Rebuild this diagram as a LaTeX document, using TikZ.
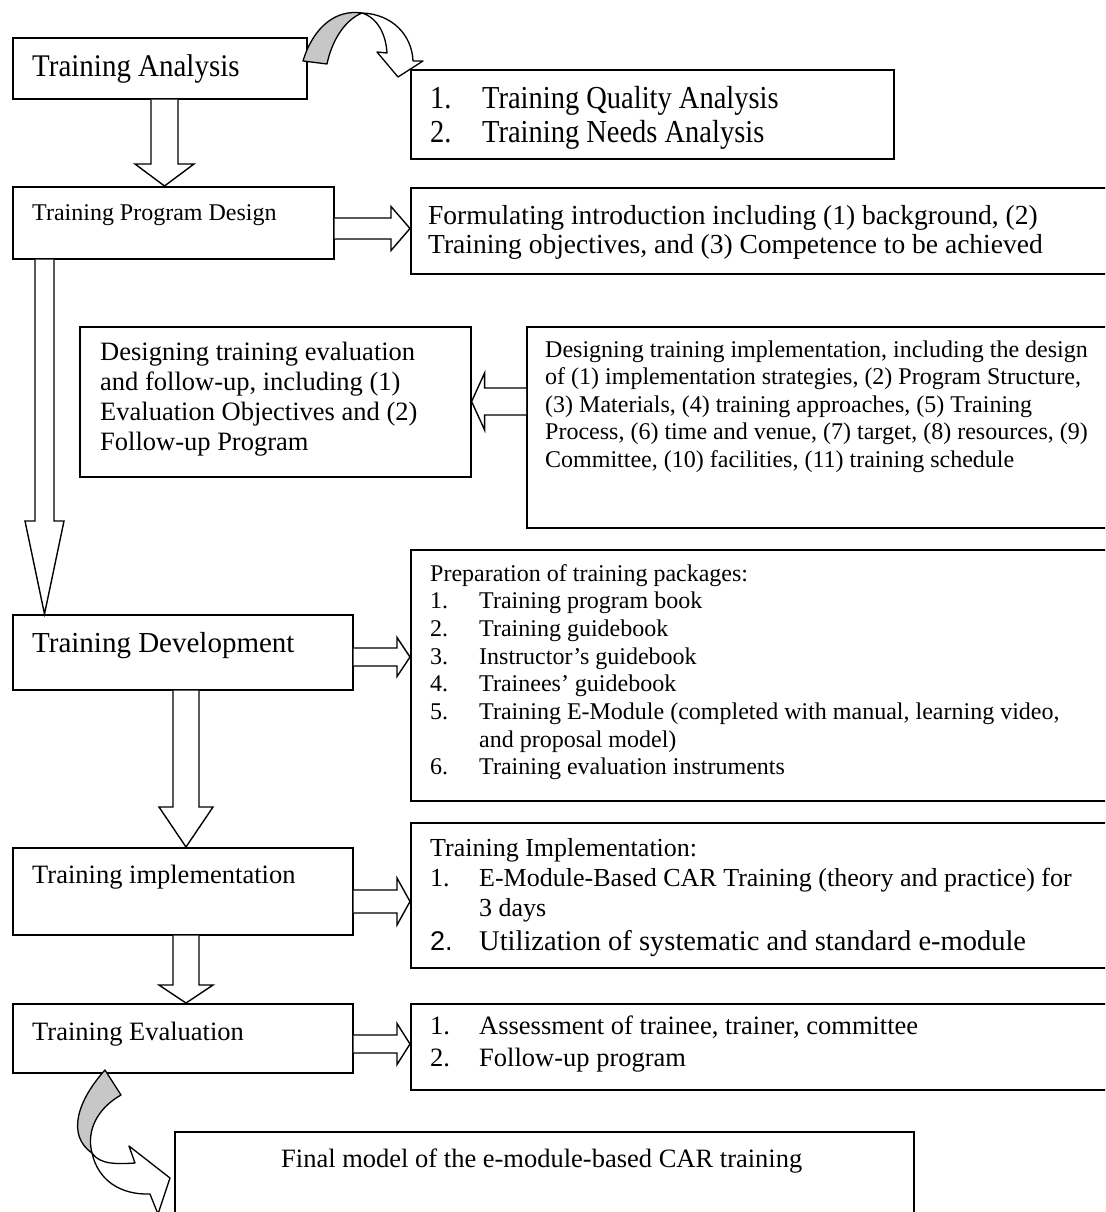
\documentclass[tikz,border=0pt]{standalone}
\usepackage{fontspec}
\setmainfont{Liberation Serif}
\newfontfamily\sansnum{Liberation Sans}
\newfontfamily\condA{Liberation Serif}[FakeStretch=0.92]
\newfontfamily\condB{Liberation Serif}[FakeStretch=0.89]
\usetikzlibrary{calc}
\newcommand\fsz[2]{\fontsize{#1}{#2}\selectfont}
% vertical block arrow: start, end, shaft half width, head half width, head length
\newcommand\varrow[5]{%
  \draw[barrow] let \p1=#1, \p2=#2 in
    ({\x1-#3},\y1) -- ({\x1-#3},{\y2+#5}) -- ({\x1-#4},{\y2+#5}) -- (\x1,\y2)
    -- ({\x1+#4},{\y2+#5}) -- ({\x1+#3},{\y2+#5}) -- ({\x1+#3},\y1);}
% horizontal block arrow: start, end, shaft half width, head half width, head length (negative = leftward)
\newcommand\harrow[5]{%
  \draw[barrow] let \p1=#1, \p2=#2 in
    (\x1,{\y1+#3}) -- ({\x2-(#5)},{\y1+#3}) -- ({\x2-(#5)},{\y1+#4}) -- (\x2,\y1)
    -- ({\x2-(#5)},{\y1-#4}) -- ({\x2-(#5)},{\y1-#3}) -- (\x1,{\y1-#3});}
\begin{document}
\begin{tikzpicture}[x=1pt,y=-1pt,
  box/.style={draw, line width=1.6pt, rectangle, inner sep=0pt, anchor=north west},
  txt/.style={anchor=base west, inner sep=0pt},
  barrow/.style={draw, line width=1.4pt, fill=white, line join=miter},
  ribbon/.style={draw, line width=1.3pt, line join=round}]
\useasboundingbox (0,0) rectangle (1105,1212);
\clip (0,0) rectangle (1105,1212);
\fill[white] (0,0) rectangle (1105,1212);

% boxes
\node[box, minimum width=294pt, minimum height=61pt]  (ta)    at (12,37)   {};
\node[box, minimum width=483pt, minimum height=89pt]  (qa)    at (410,69)  {};
\node[box, minimum width=321pt, minimum height=72pt]  (tpd)   at (12,186)  {};
\node[box, minimum width=700pt, minimum height=86pt]  (form)  at (410,187) {};
\node[box, minimum width=391pt, minimum height=150pt] (deval) at (79,326)  {};
\node[box, minimum width=584pt, minimum height=201pt] (dimpl) at (526,326) {};
\node[box, minimum width=700pt, minimum height=251pt] (prep)  at (410,549) {};
\node[box, minimum width=340pt, minimum height=75pt]  (td)    at (12,614)  {};
\node[box, minimum width=700pt, minimum height=145pt] (impl)  at (410,822) {};
\node[box, minimum width=340pt, minimum height=87pt]  (ti)    at (12,847)  {};
\node[box, minimum width=700pt, minimum height=86pt]  (evalb) at (410,1003){};
\node[box, minimum width=340pt, minimum height=69pt]  (te)    at (12,1003) {};
\node[box, minimum width=739pt, minimum height=100pt] (final) at (174,1131){};

% arrow axes
\coordinate (c1) at (164.5,0);
\coordinate (c2) at (44.5,0);
\coordinate (c3) at (186,0);
\coordinate (r1) at (0,228.5);
\coordinate (r2) at (0,401.5);
\coordinate (r3) at (0,657);
\coordinate (r4) at (0,901.5);
\coordinate (r5) at (0,1044);

% block arrows
\varrow{(c1 |- ta.south)}{(c1 |- tpd.north)}{13.5pt}{29.5pt}{22pt}
\varrow{(c2 |- tpd.south)}{(c2 |- td.north)}{9.5pt}{19.5pt}{93pt}
\varrow{(c3 |- td.south)}{(c3 |- ti.north)}{13pt}{27pt}{40pt}
\varrow{(c3 |- ti.south)}{(c3 |- te.north)}{13pt}{27pt}{18pt}
\harrow{(tpd.east |- r1)}{(form.west |- r1)}{10.5pt}{22pt}{19pt}
\harrow{(dimpl.west |- r2)}{(deval.east |- r2)}{13.5pt}{28.5pt}{-13pt}
\harrow{(td.east |- r3)}{(prep.west |- r3)}{9pt}{19.5pt}{13pt}
\harrow{(ti.east |- r4)}{(impl.west |- r4)}{11.5pt}{23.5pt}{13pt}
\harrow{(te.east |- r5)}{(evalb.west |- r5)}{9pt}{20.5pt}{13pt}

% curved arrow top (Training Analysis -> analyses)
\filldraw[ribbon, fill=black!22] (303,61) .. controls (313,28) and (335,9) .. (362,13)
  .. controls (345,20) and (332,40) .. (327,64) -- cycle;
\filldraw[ribbon, fill=white] (362,13) .. controls (392,14) and (412,35) .. (413,61)
  -- (423,61) -- (398,77) -- (377,52) -- (387,53)
  .. controls (386,35) and (378,18) .. (362,13) -- cycle;

% curved arrow bottom (Training Evaluation -> final model)
\filldraw[ribbon, fill=black!22] (105,1070) .. controls (78,1100) and (66,1135) .. (92,1153)
  .. controls (86,1130) and (98,1108) .. (121,1095) -- cycle;
\filldraw[ribbon, fill=white] (92,1153) .. controls (100,1165) and (118,1164) .. (135,1163)
  -- (129,1146) -- (170,1178) -- (158,1214) -- (150,1194)
  .. controls (120,1195) and (98,1180) .. (92,1153) -- cycle;

% texts
\node[txt] (tta) at (32,77) {\condA\fsz{31.5}{34}Training Analysis};
\node[txt] (tqa) at (430,109) {\parbox[t]{460pt}{\condB\fsz{32}{34}\makebox[52pt][l]{1.}Training Quality Analysis\\\makebox[52pt][l]{2.}Training Needs Analysis}};
\node[txt] (ttpd) at (32,220) {\fsz{24}{28}Training Program Design};
\node[txt] (tform) at (428,224) {\parbox[t]{680pt}{\fsz{27.5}{29}Formulating introduction including (1) background, (2)\\Training objectives, and (3) Competence to be achieved}};
\node[txt] (tdeval) at (100,360) {\parbox[t]{380pt}{\fsz{26.5}{30}Designing training evaluation\\and follow-up, including (1)\\Evaluation Objectives and (2)\\Follow-up Program}};
\node[txt] (tdimpl) at (545,357) {\parbox[t]{560pt}{\fsz{24}{27.5}Designing training implementation, including the design\\of (1) implementation strategies, (2) Program Structure,\\(3) Materials, (4) training approaches, (5) Training\\Process, (6) time and venue, (7) target, (8) resources, (9)\\Committee, (10) facilities, (11) training schedule}};
\node[txt] (tprep) at (430,581) {\parbox[t]{680pt}{\fsz{24}{27.7}Preparation of training packages:\\\makebox[49pt][l]{1.}Training program book\\\makebox[49pt][l]{2.}Training guidebook\\\makebox[49pt][l]{3.}Instructor’s guidebook\\\makebox[49pt][l]{4.}Trainees’ guidebook\\\makebox[49pt][l]{5.}Training E-Module (completed with manual, learning video,\\\hspace*{49pt}and proposal model)\\\makebox[49pt][l]{6.}Training evaluation instruments}};
\node[txt] (ttd) at (32,652) {\fsz{29}{33}Training Development};
\node[txt] (timpl) at (430,856) {\parbox[t]{680pt}{\fsz{26}{30}Training Implementation:\\\makebox[49pt][l]{1.}E-Module-Based CAR Training (theory and practice) for\\\hspace*{49pt}3 days\\[4pt]\makebox[49pt][l]{\sansnum\fsz{27}{33}2.}{\fsz{28.5}{34}Utilization of systematic and standard e-module}}};
\node[txt] (tti) at (32,883) {\fsz{26.5}{30}Training implementation};
\node[txt] (tte) at (32,1040) {\fsz{26.5}{30}Training Evaluation};
\node[txt] (teval) at (430,1034) {\parbox[t]{680pt}{\fsz{26.5}{32}\makebox[49pt][l]{1.}Assessment of trainee, trainer, committee\\\makebox[49pt][l]{2.}Follow-up program}};
\node[txt] (tfinal) at (281,1167) {\fsz{26.5}{30}Final model of the e-module-based CAR training};
\end{tikzpicture}
\end{document}
